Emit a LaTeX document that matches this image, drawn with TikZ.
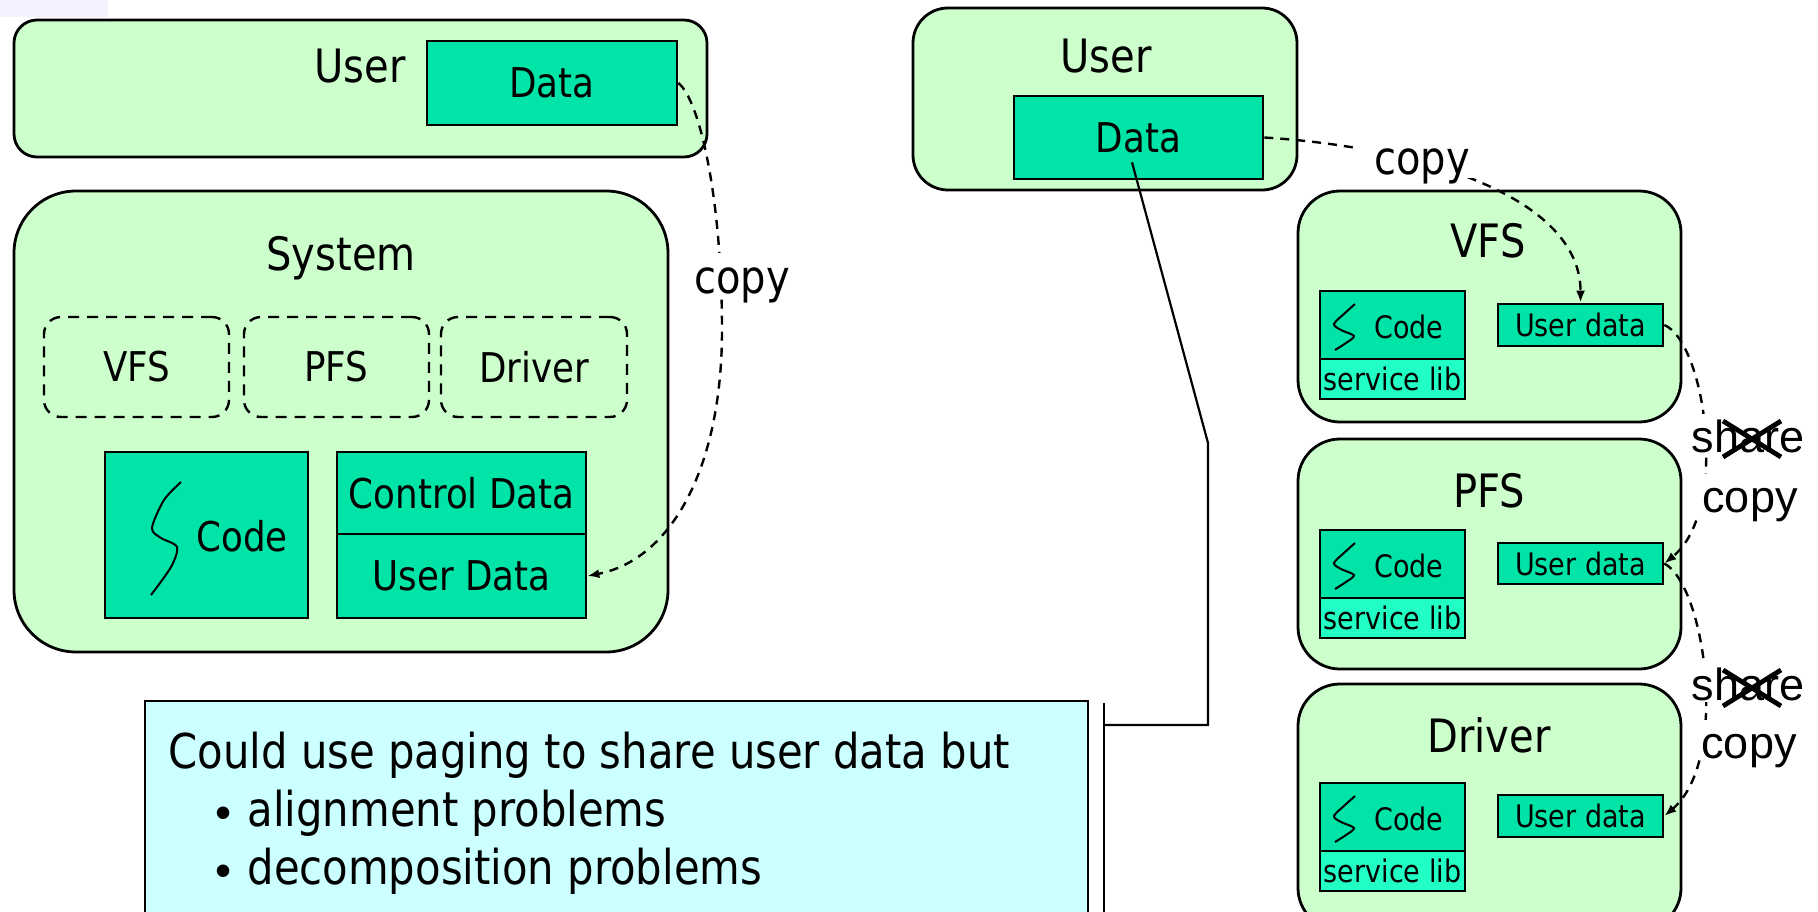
\documentclass[tikz,border=0pt]{standalone}
\usepackage{fontspec}
\setmainfont{DejaVu Sans}[FakeStretch=0.87]
\newfontfamily\arialfont{Liberation Sans}
\usetikzlibrary{arrows.meta,calc}
\newcommand\fsz[1]{\fontsize{#1pt}{#1pt}\selectfont}
\newcommand\itembullet{\makebox[32pt][l]{\raisebox{-2pt}{\arialfont\fsz{46}•}}}
\definecolor{cPanel}{RGB}{204,255,204}
\definecolor{cMem}{RGB}{0,228,168}
\definecolor{cLib}{RGB}{34,255,196}
\definecolor{cNote}{RGB}{204,255,255}
\definecolor{cHaze}{RGB}{243,243,255}
\begin{document}
\begin{tikzpicture}[x=1pt,y=-1pt,
  rbox/.style={draw, line width=2.8pt, fill=cPanel, rounded corners=#1, inner sep=0pt},
  membox/.style={draw, line width=2.6pt, fill=cMem, inner sep=0pt},
  libbox/.style={draw, line width=2.4pt, fill=cLib, inner sep=0pt},
  layer/.style={draw, line width=2.4pt, dash pattern=on 11pt off 8pt, rounded corners=17pt, inner sep=0pt},
  flow/.style={line width=2.4pt, dash pattern=on 9pt off 7pt, -{Latex[length=12pt,width=9pt]}},
  tag/.style={fill=white, inner xsep=20pt, inner ysep=0pt, text height=40pt, text depth=3pt, anchor=base},
  xtag/.style={fill=white, inner xsep=10pt, inner ysep=0pt, text height=38pt, text depth=2pt, anchor=base, font=\arialfont\fsz{45}},
  strike/.style={line width=4.8pt},
  squiggle/.style={line width=2pt},
  callout/.style={line width=2.2pt}]
\useasboundingbox (0,0) rectangle (1818,912);
\clip (0,0) rectangle (1818,912);
\fill[white] (0,0) rectangle (1818,912);
\fill[cHaze] (0,0) rectangle (108,17);

% ---------- left: monolithic system ----------
\node[rbox=23pt, minimum width=693pt, minimum height=137pt] (luser) at (360.5,88.5) {};
\node[anchor=base, font=\fsz{46}] (luserlbl) at (360,83) {User};
\node[membox, minimum width=250pt, minimum height=84pt, font=\fsz{41}] (ldata) at (552,83) {Data};

\node[rbox=62pt, minimum width=654pt, minimum height=461pt] (sys) at (341,421.5) {};
\node[anchor=base, font=\fsz{46}] (syslbl) at (341,270) {System};
\node[layer, minimum width=185pt, minimum height=100pt, font=\fsz{41}] (dvfs) at (136.5,367) {VFS};
\node[layer, minimum width=185pt, minimum height=100pt, font=\fsz{41}] (dpfs) at (336.5,367) {PFS};
\node[layer, minimum width=186pt, minimum height=100pt, font=\fsz{41}] (ddrv) at (534,367) {Driver};
\node[membox, minimum width=203pt, minimum height=166pt] (lcode) at (206.5,535) {};
\node[anchor=base, font=\fsz{41}] (lcodelbl) at (242,551) {Code};
\draw[squiggle, shift={(105,452)}] plot[smooth] coordinates {(76,30) (59,48) (47,76) (56,86) (72,95) (66,115) (46,143)};
\node[membox, minimum width=249pt, minimum height=82pt, font=\fsz{41}] (cdata) at (461.5,493) {Control Data};
\node[membox, minimum width=249pt, minimum height=84pt, font=\fsz{41}] (udata) at (461.5,576) {User Data};

% ---------- right: layered servers ----------
\node[rbox=35pt, minimum width=384pt, minimum height=182pt] (ruser) at (1105,99) {};
\node[anchor=base, font=\fsz{46}] (ruserlbl) at (1106,73) {User};
\node[membox, minimum width=249pt, minimum height=83pt, font=\fsz{41}] (rdata) at (1138.5,137.5) {Data};

\node[rbox=42pt, minimum width=383pt, minimum height=231pt] (vfs) at (1489.5,306.5) {};
\node[rbox=42pt, minimum width=383pt, minimum height=230pt] (pfs) at (1489.5,554) {};
\node[rbox=42pt, minimum width=383pt, minimum height=246pt] (drv) at (1489.5,807) {};
\node[anchor=base, font=\fsz{46}] (vfslbl) at (1488,258) {VFS};
\node[anchor=base, font=\fsz{46}] (pfslbl) at (1489,507) {PFS};
\node[anchor=base, font=\fsz{46}] (drvlbl) at (1489,752) {Driver};

\foreach \nm/\top in {v/291, p/530, d/783} {
  \node[membox, minimum width=145pt, minimum height=68pt] (\nm code) at (1392.5,\top+34) {};
  \node[anchor=base, font=\fsz{31}] (\nm codelbl) at (1409,\top+47) {Code};
  \draw[squiggle, shift={(1320,\top)}] plot[smooth] coordinates {(35,13) (25,22) (14,33) (21,39) (34,45) (26,52) (15,59)};
  \node[libbox, minimum width=145pt, minimum height=40pt, font=\fsz{31}] (\nm lib) at (1392.5,\top+88) {service lib};
}
\node[membox, minimum width=165pt, minimum height=42pt, font=\fsz{31}] (vud) at (1580.5,325) {User data};
\node[membox, minimum width=165pt, minimum height=41pt, font=\fsz{31}] (pud) at (1580.5,563.5) {User data};
\node[membox, minimum width=165pt, minimum height=42pt, font=\fsz{31}] (dud) at (1580.5,816) {User data};

% ---------- note with callout ----------
\node[draw, line width=2.4pt, fill=cNote, minimum width=943pt, minimum height=239pt, inner sep=0pt] (note) at (616.5,820.5) {};
\node[anchor=base west, font=\fsz{48}] (noteA) at (165,768) {Could use paging to share user data but};
\node[anchor=base west, font=\fsz{48}] (noteB) at (212,826) {\itembullet alignment problems};
\node[anchor=base west, font=\fsz{48}] (noteC) at (212,884) {\itembullet decomposition problems};
\coordinate (cstart) at ($(rdata.south)+(-6.5,-18)$);
\coordinate (cbend) at (1208,443);
\coordinate (cdown) at (1208,725);
\coordinate (cend) at (1104,725);
\coordinate (bartop) at (1104,703);
\coordinate (barbot) at (1104,930);
\draw[callout] (cstart) -- (cbend) -- (cdown) -- (cend);
\draw[callout] (bartop) -- (barbot);

% ---------- copy paths ----------
\draw[flow] (ldata.east) .. controls (700,100) and (722,200) .. (722,330)
            .. controls (722,470) and (670,560) .. (udata.east);
\draw[flow] (rdata.east) .. controls (1430,148) and (1581,200) .. (vud.north);
\draw[flow] (vud.east) .. controls (1705,342) and (1730,510) .. (pud.east);
\draw[flow] (pud.east) .. controls (1705,585) and (1730,760) .. (dud.east);

\node[tag, font=\fsz{46}] (lcopy) at (742,293) {copy};
\node[tag, font=\fsz{46}] (rcopy) at (1422,175) {copy};
\node[xtag] (shareA) at (1748,452) {share};
\node[xtag] (copyA) at (1750,512) {copy};
\node[xtag] (shareB) at (1748,700) {share};
\node[xtag] (copyB) at (1749,758) {copy};
\draw[strike] (1723,421) -- (1781,457);
\draw[strike] (1723,457) -- (1781,421);
\draw[strike] (1723,670) -- (1781,706);
\draw[strike] (1723,706) -- (1781,670);
\end{tikzpicture}
\end{document}
